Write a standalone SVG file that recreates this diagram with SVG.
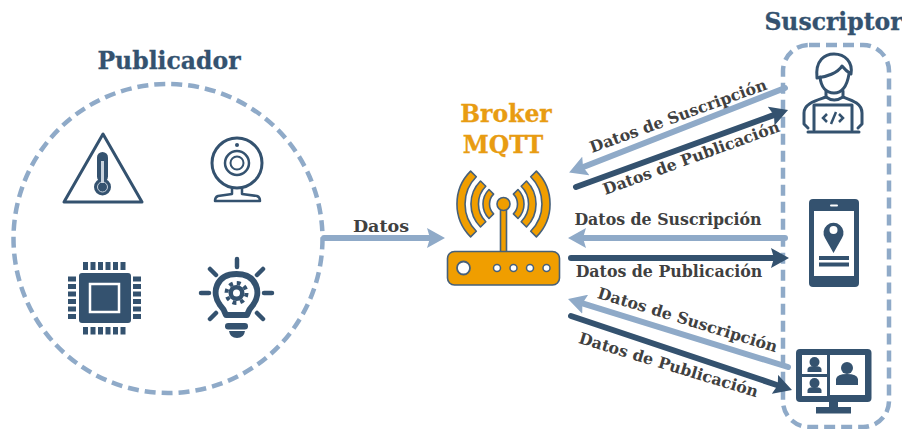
<svg xmlns="http://www.w3.org/2000/svg" width="902" height="429" viewBox="0 0 902 429">
<style>
text{font-family:"DejaVu Serif","Liberation Serif",serif;font-weight:bold}
.lbl{font-size:15.800px;fill:#404040;text-anchor:middle}
.title{font-size:23.500px;fill:#34526f;text-anchor:middle;stroke:#34526f;stroke-width:.3}
.brk{font-size:23.500px;fill:#e89c12;text-anchor:middle;stroke:#e89c12;stroke-width:.3}
.bd{fill:none;stroke:#8faac8;stroke-width:4.500;stroke-dasharray:11 6}
.lt{fill:none;stroke:#8faac8;stroke-width:6;stroke-linecap:round;marker-end:url(#hl)}
.dk{fill:none;stroke:#34526f;stroke-width:6;stroke-linecap:round;marker-end:url(#hd)}
.d{fill:#34526f}
.w{fill:#fff}
.o{fill:none;stroke:#34526f;stroke-width:3;stroke-linecap:round;stroke-linejoin:round}
.or{fill:#f09e00;stroke:#46607a;stroke-width:1.600;stroke-linejoin:round}
</style>
<defs>
<marker id="hl" viewBox="0 0 18 20" refX="2" refY="10" markerWidth="18" markerHeight="20" markerUnits="userSpaceOnUse" orient="auto"><path d="M0 0L18 10L0 20L3 10z" fill="#8faac8"/></marker>
<marker id="hd" viewBox="0 0 18 20" refX="2" refY="10" markerWidth="18" markerHeight="20" markerUnits="userSpaceOnUse" orient="auto"><path d="M0 0L18 10L0 20L3 10z" fill="#34526f"/></marker>
</defs>
<g id="publicador">
<circle class="bd" cx="168" cy="238.500" r="154.500"/>
<text class="title" x="169" y="69">Publicador</text>
</g>
<g id="suscriptor">
<rect class="bd" x="783" y="45" width="106" height="382" rx="26"/>
<text class="title" x="833.500" y="30">Suscriptor</text>
</g>
<g id="sensor">
<path class="o" d="M103 134L64 202H142Z"/>
<rect x="97" y="152" width="11" height="30" rx="5.500" class="d"/>
<circle cx="102.500" cy="187" r="8.500" class="d"/>
<rect x="101" y="161" width="3" height="22" fill="#c9d3dd"/>
<circle cx="102.500" cy="187" r="5" fill="none" stroke="#c9d3dd" stroke-width="1"/>
</g>
<g id="webcam">
<circle class="o" cx="237" cy="163" r="25"/>
<circle cx="237" cy="163" r="12" fill="none" stroke="#34526f" stroke-width="2.500"/>
<circle cx="237" cy="163" r="6.500" fill="none" stroke="#34526f" stroke-width="2"/>
<circle cx="237" cy="145" r="2" class="d"/>
<path fill="none" stroke="#34526f" stroke-width="2.500" stroke-linejoin="round" d="M232 188V194L218 196Q215 197 215 201H260Q260 197 257 196L242 194V188"/>
</g>
<g id="chip">
<rect x="79" y="273" width="52" height="50" rx="3" class="d"/>
<rect x="90" y="284" width="29" height="28" class="d" stroke="#fff" stroke-width="2.500"/>
<path fill="none" stroke="#34526f" stroke-width="5" d="M85.500 262v8M93 262v8M100.500 262v8M108 262v8M115.500 262v8M123 262v8M85.500 327v7.500M93 327v7.500M100.500 327v7.500M108 327v7.500M115.500 327v7.500M123 327v7.500M68 279h8M68 286.500h8M68 294h8M68 301.500h8M68 309h8M68 316.500h8M133 279h8M133 286.500h8M133 294h8M133 301.500h8M133 309h8M133 316.500h8"/>
</g>
<g id="bulb">
<path fill="none" stroke="#34526f" stroke-width="4.500" stroke-linecap="round" d="M237 259V267M201 293H209M264 293H272M210 269L216 275M263 269L257 275M210 319L216 313M263 319L257 313"/>
<path fill="none" stroke="#34526f" stroke-width="6" stroke-linejoin="round" d="M226 315Q224 309 220 305C211 293 216 274 236.500 274C257 274 262 293 253 305Q249 309 247 315Z"/>
<circle cx="236.500" cy="293" r="8" class="d"/>
<circle cx="236.500" cy="293" r="10" fill="none" stroke="#34526f" stroke-width="4" stroke-dasharray="3.900 3.950"/>
<circle cx="236.500" cy="293" r="3.500" class="w"/>
<rect x="225" y="323" width="23" height="6.500" rx="3.200" class="d"/>
<path class="d" d="M229 331H245Q244 338 237 338Q230 338 229 331Z"/>
</g>
<g id="broker">
<text class="brk" x="506" y="122">Broker</text>
<text class="brk" x="503" y="153">MQTT</text>
<path class="or" d="M470.600 171.100A46.500 46.500 0 0 0 470.600 236.900L476.300 231.200A38.500 38.500 0 0 1 476.300 176.800Z"/>
<path class="or" d="M536.400 171.100A46.500 46.500 0 0 1 536.400 236.900L530.700 231.200A38.500 38.500 0 0 0 530.700 176.800Z"/>
<path class="or" d="M480.500 181A32.500 32.500 0 0 0 480.500 227L485.800 221.700A25 25 0 0 1 485.800 186.300Z"/>
<path class="or" d="M526.500 181A32.500 32.500 0 0 1 526.500 227L521.200 221.700A25 25 0 0 0 521.200 186.300Z"/>
<path class="or" d="M489 189.500A20.500 20.500 0 0 0 489 218.500L493.600 213.900A14 14 0 0 1 493.600 194.100Z"/>
<path class="or" d="M518 189.500A20.500 20.500 0 0 1 518 218.500L513.400 213.900A14 14 0 0 0 513.400 194.100Z"/>
<rect class="or" x="500.500" y="205" width="6" height="48"/>
<circle class="or" cx="503.500" cy="204" r="6.500"/>
<rect class="or" x="447.500" y="251.500" width="112" height="33.500" rx="7"/>
<circle cx="463.500" cy="268" r="6.500" fill="#fff" stroke="#46607a" stroke-width="1.800"/>
<g fill="#fff" stroke="#46607a" stroke-width="1.500"><circle cx="497" cy="268" r="3.500"/><circle cx="513.500" cy="268" r="3.500"/><circle cx="530" cy="268" r="3.500"/><circle cx="546.500" cy="268" r="3.500"/></g>
</g>
<g id="developer">
<path class="o" d="M817 78C815 60 825 54 834 54C845 54 853 62 851 74C846 71 842 66 842 66C838 73 826 77 817 78Z"/>
<path class="o" d="M820 77C821 87 826 93 834 93C842 93 847 86 849 74"/>
<path class="o" d="M826 91V97C818 100 804 103 804 113V124L808 128M843 91V97C851 100 862 103 862 113V124L858 128"/>
<path class="o" d="M826 97Q834 103 843 97"/>
<path class="o" d="M814 130V105H852V130"/>
<path class="o" d="M808 132H859"/>
<path fill="none" stroke="#34526f" stroke-width="2.500" d="M827 114L823 118L827 122M839 114L843 118L839 122M836 112L831 124"/>
</g>
<g id="phone">
<rect x="809" y="199" width="50" height="88" rx="4" class="d"/>
<rect x="814" y="211" width="40" height="65" class="w"/>
<rect x="830" y="204.500" width="8" height="2" rx="1" class="w"/>
<path class="d" d="M833.500 253L825 238A10 10 0 1 1 842 238Z"/>
<circle cx="833.500" cy="230" r="4" class="w"/>
<rect x="819" y="256" width="30" height="4" class="d"/>
<rect x="819" y="262.500" width="30" height="4" class="d"/>
</g>
<g id="monitor">
<rect x="796" y="349" width="75.500" height="53" rx="4" class="d"/>
<rect x="829" y="402" width="9" height="6" class="d"/>
<rect x="816" y="407" width="35" height="6.500" class="d"/>
<rect x="802" y="355" width="25" height="19" class="w"/>
<rect x="802" y="377" width="25" height="19" class="w"/>
<rect x="830" y="355" width="35" height="40" class="w"/>
<circle cx="814.500" cy="362" r="5" class="d"/>
<path class="d" d="M807.500 372V369Q808 366 814.500 366Q821 366 821.500 369V372Z"/>
<circle cx="814.500" cy="383" r="5" class="d"/>
<path class="d" d="M807.500 393V390Q808 387 814.500 387Q821 387 821.500 390V393Z"/>
<circle cx="847" cy="368" r="6" class="d"/>
<path class="d" d="M836 385V379Q837 374 847 374Q857 374 858 379V385Z"/>
</g>
<g id="connectors">
<path class="lt" d="M324 238H429"/>
<path class="lt" d="M785 88L584 166.700"/>
<path class="dk" d="M576 187L773 115.400"/>
<path class="lt" d="M785 238H584"/>
<path class="dk" d="M571 258H773"/>
<path class="lt" d="M788 367L583.300 303.700"/>
<path class="dk" d="M571 316L776.800 385"/>
<text class="lbl" x="381" y="232" style="font-size:17.500px">Datos</text>
<text class="lbl" transform="translate(680 121) rotate(-20)">Datos de Suscripción</text>
<text class="lbl" transform="translate(693 163) rotate(-20)">Datos de Publicación</text>
<text class="lbl" x="668" y="225">Datos de Suscripción</text>
<text class="lbl" x="669" y="277">Datos de Publicación</text>
<text class="lbl" transform="translate(686 325) rotate(17)">Datos de Suscripción</text>
<text class="lbl" transform="translate(667 370) rotate(17)">Datos de Publicación</text>
</g>
</svg>
